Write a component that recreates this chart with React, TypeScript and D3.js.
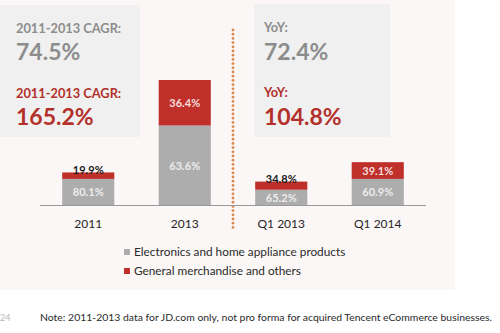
import React from "react";
import * as d3 from "d3";

const categories = ["2011", "2013", "Q1 2013", "Q1 2014"];
const totals = [32.7, 125.5, 23.5, 43.0];
const electronicsPct = [80.1, 63.6, 65.2, 60.9];
const generalPct = [19.9, 36.4, 34.8, 39.1];
const legendLabels = ["Electronics and home appliance products", "General merchandise and others"];
const leftBoxTexts = ["2011-2013 CAGR:", "74.5%", "2011-2013 CAGR:", "165.2%"];
const rightBoxTexts = ["YoY:", "72.4%", "YoY:", "104.8%"];
const noteText = "Note: 2011-2013 data for JD.com only, not pro forma for acquired Tencent eCommerce businesses.";

const GRAY = "#adadad";
const RED = "#c0302a";
const FONT = "Lato, 'Open Sans', sans-serif";

export default function App() {
  const W = 500, H = 333;
  const x = d3.scaleBand<string>().domain(categories).range([40, 426]).paddingInner(0.46).paddingOuter(0.23);
  const y = d3.scaleLinear().domain([0, 125.5]).range([205, 80]);
  const dots = d3.range(30, 228, 4.2);

  return (
    <svg width={W} height={H} style={{ position: "absolute", left: 0, top: 0 }} fontFamily={FONT}>
      <rect x={0} y={0} width={W} height={H} fill="#ffffff" />
      <rect x={0} y={0} width={455} height={290} fill="#fbf7f6" />
      <rect x={0} y={5} width={140} height={132} fill="#f0f0f0" />
      <rect x={254} y={4} width={136} height={133} fill="#f0f0f0" />

      {/* left box texts */}
      <text x={16} y={33} fontSize={12.8} fontWeight={700} fill="#8c8c8c">{leftBoxTexts[0]}</text>
      <text x={16} y={60} fontSize={23} fontWeight={700} fill="#8c8c8c">{leftBoxTexts[1]}</text>
      <text x={16} y={98} fontSize={12.8} fontWeight={700} fill="#b3302b">{leftBoxTexts[2]}</text>
      <text x={16} y={125} fontSize={23} fontWeight={700} fill="#b3302b">{leftBoxTexts[3]}</text>

      {/* right box texts */}
      <text x={264} y={32} fontSize={12.8} fontWeight={700} fill="#8c8c8c">{rightBoxTexts[0]}</text>
      <text x={264} y={60} fontSize={23} fontWeight={700} fill="#8c8c8c">{rightBoxTexts[1]}</text>
      <text x={264} y={97} fontSize={12.8} fontWeight={700} fill="#b3302b">{rightBoxTexts[2]}</text>
      <text x={264} y={125} fontSize={23} fontWeight={700} fill="#b3302b">{rightBoxTexts[3]}</text>

      {/* dotted divider */}
      {dots.map((d, i) => (
        <circle key={i} cx={233} cy={d} r={1.4} fill="#dc8a4f" />
      ))}

      {/* bars */}
      {categories.map((c, i) => {
        const x0 = x(c)!;
        const bw = x.bandwidth();
        const cx = x0 + bw / 2;
        const total = totals[i];
        const eVal = (total * electronicsPct[i]) / 100;
        const yTop = y(total);
        const yMid = y(eVal);
        const yBase = y(0);
        const redH = yMid - yTop;
        const grayH = yBase - yMid;
        const big = redH > 14;
        const redLabelY = big ? (yTop + yMid) / 2 + 4 : yTop + 1.5;
        return (
          <g key={c}>
            <rect x={x0} y={yMid} width={bw} height={grayH} fill={GRAY} />
            <rect x={x0} y={yTop} width={bw} height={redH} fill={RED} />
            <text x={cx} y={(yMid + yBase) / 2 + 4.5} textAnchor="middle" fontSize={11} fontWeight={700} fill="#ececec">
              {electronicsPct[i].toFixed(1)}%
            </text>
            <text x={cx} y={redLabelY} textAnchor="middle" fontSize={11} fontWeight={700} fill={big ? "#f6dede" : "#1a1a1a"}>
              {generalPct[i].toFixed(1)}%
            </text>
            <text x={cx} y={228} textAnchor="middle" fontSize={12} fill="#262626">{c}</text>
          </g>
        );
      })}
      <line x1={40} x2={426} y1={205.5} y2={205.5} stroke="#9a9a9a" strokeWidth={1} />

      {/* legend */}
      <rect x={124} y={249} width={6} height={6} fill={GRAY} />
      <text x={134} y={256} fontSize={11.8} fill="#2a2a2a">{legendLabels[0]}</text>
      <rect x={124} y={268} width={6} height={6} fill={RED} />
      <text x={134} y={275} fontSize={11.8} fill="#2a2a2a">{legendLabels[1]}</text>

      {/* footer */}
      <text x={0} y={321} fontSize={9} fill="#b5b5b5">24</text>
      <text x={40} y={321} fontSize={9} fill="#2a2a2a" textLength={452} lengthAdjust="spacingAndGlyphs">{noteText}</text>
    </svg>
  );
}
